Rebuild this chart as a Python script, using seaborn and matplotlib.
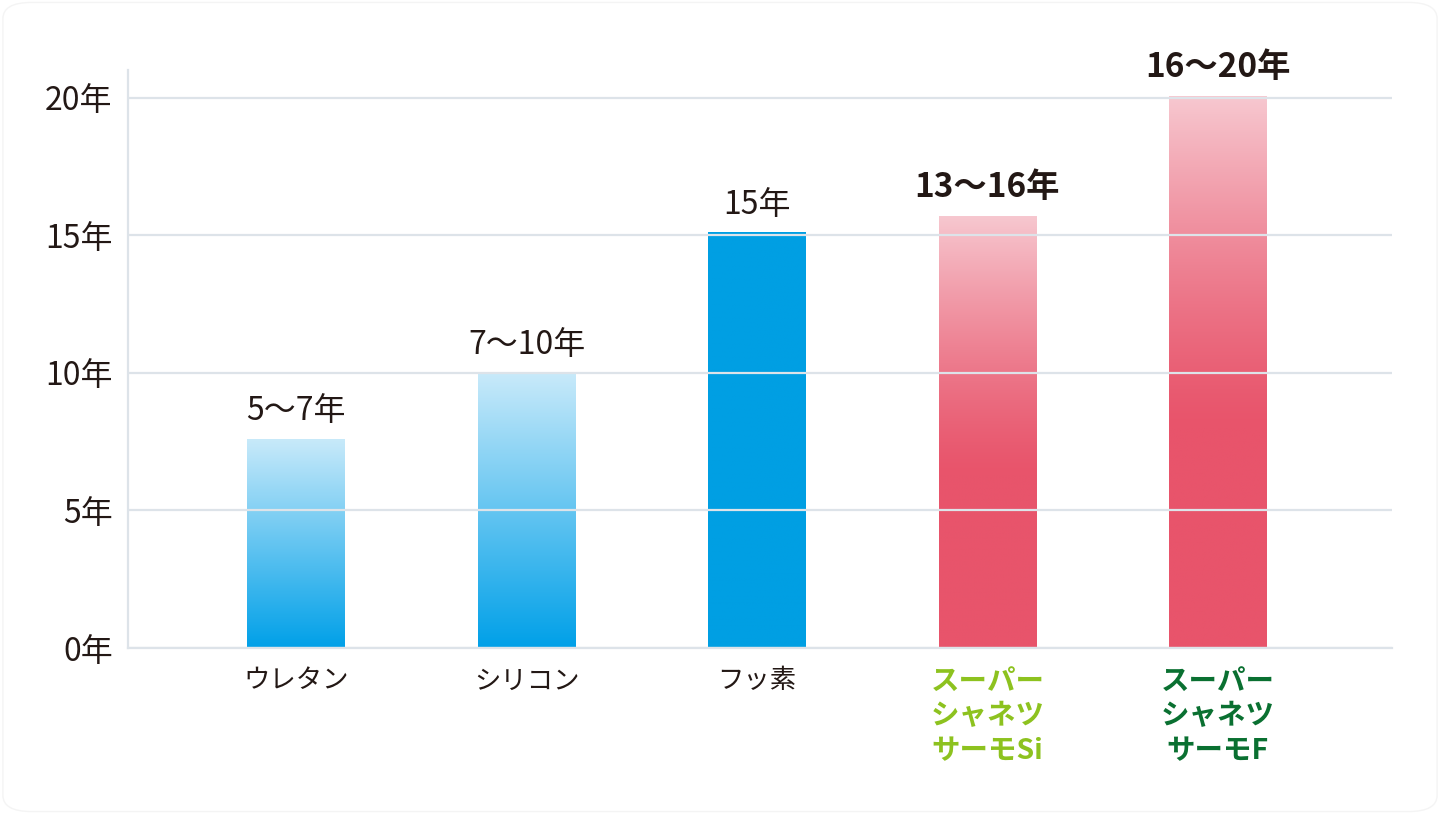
import numpy as np
import pandas as pd
import seaborn as sns
import matplotlib.pyplot as plt
from matplotlib.colors import to_rgb
from matplotlib.patches import FancyBboxPatch

# data
categories = ["ウレタン", "シリコン", "フッ素",
              "スーパー\nシャネツ\nサーモSi", "スーパー\nシャネツ\nサーモF"]
years = [7.6, 10.0, 15.1, 15.7, 20.05]
value_labels = ["5〜7年", "7〜10年", "15年", "13〜16年", "16〜20年"]
yticks = [0, 5, 10, 15, 20]
ytick_labels = ["0年", "5年", "10年", "15年", "20年"]

# styling
bar_top = ["#c9eafa", "#c9eafa", "#009fe3", "#f7c8d0", "#f7c8d0"]
bar_bottom = ["#00a0e8", "#00a0e8", "#009fe3", "#e8546b", "#e8546b"]
ramp = ["linear", "linear", "linear", "late", "late"]
label_bold = [False, False, False, True, True]
cat_colors = ["#231815", "#231815", "#231815", "#8dc21f", "#0a7031"]
text_color = "#231815"
grid_color = "#dde3e9"

sns.set_theme(style="white")
plt.rcParams['font.family'] = ['Noto Sans CJK JP', 'DejaVu Sans']

df = pd.DataFrame({"cat": categories, "years": years})

fig = plt.figure(figsize=(14.4, 8.14), dpi=100)
fig.patch.set_facecolor("white")
fig.patches.append(FancyBboxPatch((0.002, 0.003), 0.996, 0.994,
                                  boxstyle="round,pad=0,rounding_size=0.02",
                                  transform=fig.transFigure, facecolor="white",
                                  edgecolor="#f4f4f4", linewidth=1, zorder=-10))
ax = fig.add_axes([128 / 1440, 1 - 648 / 814, (1392 - 128) / 1440, (648 - 70) / 814])
ax.set_facecolor("none")

sns.barplot(data=df, x="cat", y="years", hue="cat", palette=bar_bottom,
            legend=False, width=0.425, ax=ax)

# gradient fills clipped to the bar patches
for i, cont in enumerate(ax.containers):
    bar = cont[0]
    x0, w, h = bar.get_x(), bar.get_width(), bar.get_height()
    t = np.linspace(0, 1, 512)
    if ramp[i] == "late":
        f = np.clip((t - 0.4) / 0.6, 0, 1) ** 1.3
    else:
        f = t
    c0 = np.array(to_rgb(bar_bottom[i]))
    c1 = np.array(to_rgb(bar_top[i]))
    grad = c0[None, :] * (1 - f[:, None]) + c1[None, :] * f[:, None]
    img = ax.imshow(grad[:, None, :], extent=[x0, x0 + w, 0, h], origin="lower",
                    aspect="auto", zorder=1.5, interpolation="bilinear")
    img.set_clip_path(bar)
    bar.set_facecolor("none")
    bar.set_linewidth(0)

    ax.annotate(value_labels[i], (x0 + w / 2, h), xytext=(0, 13.5),
                textcoords="offset points", ha="center", va="baseline",
                fontsize=24 if label_bold[i] else 23,
                fontweight="bold" if label_bold[i] else "normal",
                color=text_color)

ax.set_xlim(-0.729, 4.755)
ax.set_ylim(0, 21)
ax.set_yticks(yticks)
ax.set_yticklabels(ytick_labels, fontsize=23, color=text_color)
ax.set_xticks(range(len(categories)))
ax.set_xticklabels(categories, fontsize=19, linespacing=1.25)
for lbl, col, b in zip(ax.get_xticklabels(), cat_colors, label_bold):
    lbl.set_color(col)
    if b:
        lbl.set_fontweight("bold")
        lbl.set_fontsize(20.5)
        lbl.set_linespacing(1.32)
ax.tick_params(axis="x", length=0, pad=14)
ax.tick_params(axis="y", length=0, pad=11)
ax.set_xlabel("")
ax.set_ylabel("")

ax.set_axisbelow(False)
ax.yaxis.grid(True, color=grid_color, linewidth=1.6)
ax.xaxis.grid(False)
for s in ["top", "right"]:
    ax.spines[s].set_visible(False)
for s in ["left", "bottom"]:
    ax.spines[s].set_color(grid_color)
    ax.spines[s].set_linewidth(1.6)

fig.savefig("out.png", dpi=100)
